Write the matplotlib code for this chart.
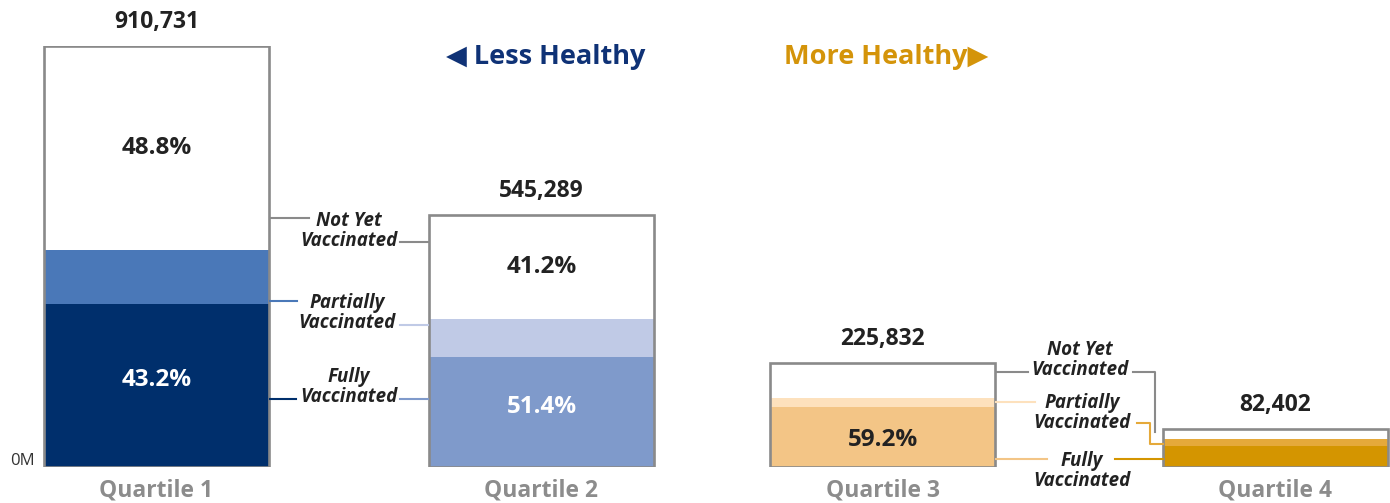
import matplotlib
matplotlib.use("Agg")
import matplotlib.pyplot as plt
from matplotlib.lines import Line2D

# ---------------- data ----------------
quartiles = ["Quartile 1", "Quartile 2", "Quartile 3", "Quartile 4"]
totals = [910731, 545289, 225832, 82402]
fully = [352000, 237700, 130300, 45300]
partially = [116500, 83000, 19600, 14800]
total_labels = ["910,731", "545,289", "225,832", "82,402"]
notyet_pct_labels = ["48.8%", "41.2%", "", ""]
fully_pct_labels = ["43.2%", "51.4%", "59.2%", ""]

# ---------------- style ----------------
W, H = 1390, 503
fully_colors = ["#002F6C", "#7F9ACB", "#F3C586", "#D49500"]
partial_colors = ["#4A78B8", "#C0CAE6", "#FDE1BD", "#E5A93A"]
fully_text_colors = ["white", "white", "#222222", "white"]
outline = "#8A8A8A"
label_gray = "#8C8C8C"
navy = "#0F3276"
gold = "#D4940A"
FONT = "Open Sans"
plt.rcParams["font.family"] = [FONT, "DejaVu Sans"]

x_centers = [156.5, 541.5, 882.5, 1275.5]
bar_w = 225

fig = plt.figure(figsize=(W / 100, H / 100), dpi=100)
ax = fig.add_axes([0, 36 / H, 1, 421 / H])
ax.set_xlim(0, W)
ax.set_ylim(0, totals[0])
ax.axis("off")

def P(x, y):
    return (x / W, 1 - y / H)

tf = fig.transFigure

for i in range(4):
    ax.bar(x_centers[i], fully[i], width=bar_w, color=fully_colors[i], linewidth=0, zorder=2)
    ax.bar(x_centers[i], partially[i], bottom=fully[i], width=bar_w,
           color=partial_colors[i], linewidth=0, zorder=2)
    ax.bar(x_centers[i], totals[i], width=bar_w, fill=False, edgecolor=outline,
           linewidth=1.9, zorder=3)
    ax.text(x_centers[i], totals[i] + totals[0] * 0.028, total_labels[i], ha="center",
            va="bottom", fontsize=16.5, fontweight="bold", color="#222222")
    if notyet_pct_labels[i]:
        yv = fully[i] + partially[i] + (totals[i] - fully[i] - partially[i]) / 2
        ax.text(x_centers[i], yv, notyet_pct_labels[i], ha="center", va="center",
                fontsize=17.5, fontweight="bold", color="#222222")
    ax.text(x_centers[i], -totals[0] * 0.057, quartiles[i], ha="center", va="center",
            fontsize=16.5, fontweight="bold", color=label_gray)

# fully pct labels (positioned within the fully segment)
fully_label_y = [380, 407, 440]
for i in range(3):
    fig.text(*P(x_centers[i], fully_label_y[i]), fully_pct_labels[i], ha="center", va="center",
             fontsize=17.5, fontweight="bold", color=fully_text_colors[i])

fig.text(*P(22, 461), "0M", ha="center", va="center", fontsize=12, color="#333333")

# headers
fig.text(*P(546, 57), "\u25C0 Less Healthy", ha="center", va="center", fontsize=19.5,
         fontweight="bold", color=navy)
fig.text(*P(886, 57), "More Healthy\u25B6", ha="center", va="center", fontsize=19.5,
         fontweight="bold", color=gold)

def seg(xs, ys, color):
    fig.add_artist(Line2D([x / W for x in xs], [1 - y / H for y in ys], color=color,
                          linewidth=1.5, transform=tf, zorder=5))

def lbl(x, y, s):
    fig.text(*P(x, y), s, ha="center", va="center", fontsize=13.5, fontweight="bold",
             style="italic", color="#222222", linespacing=1.0)

# connectors between Q1 and Q2
lbl(349, 231, "Not Yet\nVaccinated")
seg([270, 309], [218, 218], outline)
seg([400, 428], [242, 242], outline)
lbl(347, 313, "Partially\nVaccinated")
seg([270, 297], [301, 301], partial_colors[0])
seg([400, 428], [325, 325], partial_colors[1])
lbl(349, 387, "Fully\nVaccinated")
seg([270, 296], [399, 399], fully_colors[0])
seg([400, 428], [399, 399], fully_colors[1])

# connectors between Q3 and Q4
lbl(1080, 360, "Not Yet\nVaccinated")
seg([996, 1028], [372, 372], outline)
seg([1133, 1155, 1155], [372, 372, 432], outline)
lbl(1082, 413, "Partially\nVaccinated")
seg([996, 1035], [402, 402], partial_colors[2])
seg([1137, 1150, 1150, 1163], [423, 423, 444, 444], partial_colors[3])
lbl(1082, 471, "Fully\nVaccinated")
seg([996, 1047], [459, 459], fully_colors[2])
seg([1115, 1163], [459, 459], fully_colors[3])

fig.savefig("out.png", dpi=100, facecolor="white")
